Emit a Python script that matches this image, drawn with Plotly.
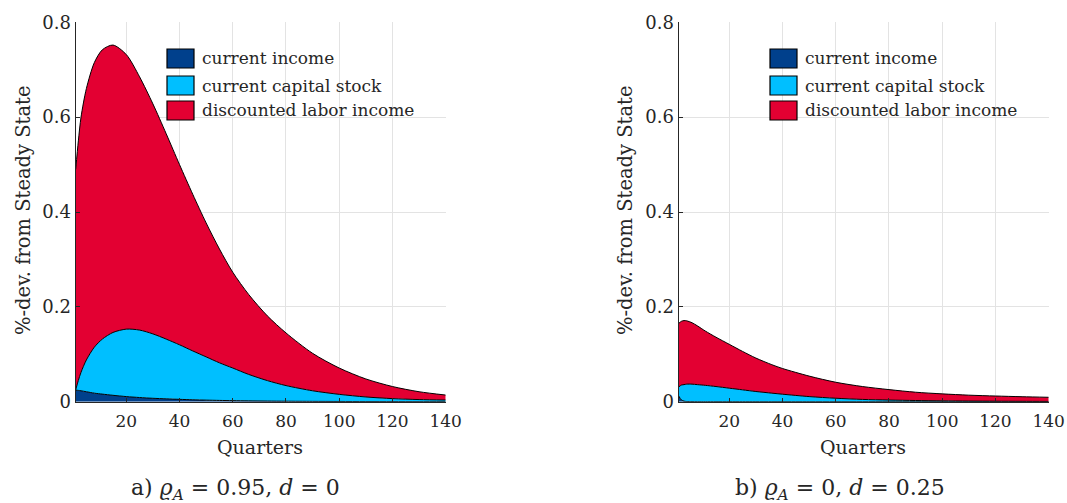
import plotly.graph_objects as go

# ---------------- data ----------------
# panel a) rho_A = 0.95, d = 0
quarters_a = [1, 2, 3, 5, 8, 11, 15, 20, 25, 30, 35, 40, 45, 50, 55, 60, 66, 73,
              80, 90, 100, 110, 120, 130, 140]
income_a = [0.0245, 0.0238, 0.023, 0.021, 0.018, 0.016, 0.0135, 0.0108, 0.0088,
            0.0072, 0.006, 0.005, 0.004, 0.0033, 0.0027, 0.0022, 0.0017, 0.0013,
            0.001, 0.0007, 0.0005, 0.0003, 0.0002, 0.0001, 0.0001]
capital_a = [0.0005, 0.0212, 0.039, 0.067, 0.097, 0.116, 0.1325, 0.1422, 0.1422,
             0.1358, 0.126, 0.115, 0.103, 0.0912, 0.0793, 0.0688, 0.0558, 0.0432,
             0.033, 0.0223, 0.015, 0.0097, 0.0063, 0.0044, 0.0034]
labor_a = [0.465, 0.505, 0.538, 0.572, 0.600, 0.610, 0.606, 0.579, 0.534, 0.485,
           0.433, 0.380, 0.330, 0.2825, 0.240, 0.202, 0.1685, 0.1365, 0.111, 0.079,
           0.0555, 0.038, 0.0255, 0.0165, 0.0105]

# panel b) rho_A = 0, d = 0.25
quarters_b = [1, 2, 3, 4, 6, 8, 11, 15, 20, 25, 30, 36, 40, 50, 60, 70, 80, 90,
              100, 110, 120, 130, 140]
income_b = [0.012, 0.004, 0.0012, 0.0004, 0.0001, 0, 0, 0, 0, 0, 0, 0, 0, 0, 0,
            0, 0, 0, 0, 0, 0, 0, 0]
capital_b = [0.019, 0.031, 0.0348, 0.0366, 0.0369, 0.036, 0.0345, 0.032, 0.0285,
             0.025, 0.0215, 0.018, 0.0158, 0.0108, 0.0073, 0.0048, 0.0035, 0.0025,
             0.0018, 0.0013, 0.001, 0.0008, 0.0006]
labor_b = [0.134, 0.1345, 0.135, 0.1335, 0.1295, 0.124, 0.1145, 0.104, 0.0925,
           0.081, 0.0705, 0.060, 0.0542, 0.0432, 0.0337, 0.0272, 0.022, 0.0175,
           0.0147, 0.0125, 0.011, 0.0097, 0.0087]

series_names = ["current income", "current capital stock", "discounted labor income"]
series_colors = ["#00408C", "#00BFFF", "#E30032"]

x_ticks = [20, 40, 60, 80, 100, 120, 140]
y_ticks = [0, 0.2, 0.4, 0.6, 0.8]
y_tick_text = ["0", "0.2", "0.4", "0.6", "0.8"]

x_title = "Quarters"
y_title = "%-dev. from Steady State"
captions = ["a) <i>ϱ</i><sub><i>A</i></sub> = 0.95, <i>d</i> = 0",
            "b) <i>ϱ</i><sub><i>A</i></sub> = 0, <i>d</i> = 0.25"]

FONT = "DejaVu Serif"
TXT = "#262626"
W, H = 1067, 503

fig = go.Figure()

panels = [
    ("x", "y", quarters_a, [income_a, capital_a, labor_a], "a"),
    ("x2", "y2", quarters_b, [income_b, capital_b, labor_b], "b"),
]
for xa, ya, qs, comps, grp in panels:
    for k, vals in enumerate(comps):
        fig.add_trace(go.Scatter(
            x=qs, y=vals, xaxis=xa, yaxis=ya,
            stackgroup=grp, mode="lines",
            line=dict(color="black", width=1, shape="spline", smoothing=0.8),
            fillcolor=series_colors[k], name=series_names[k],
            showlegend=False, hoverinfo="skip",
        ))

# axis domains (paper fractions)
dom_x = [(75.7 / W, 445.7 / W), (678.7 / W, 1048.7 / W)]
dom_y = (1 - 401.7 / H, 1 - 22.3 / H)

common_x = dict(range=[1, 140], tickvals=x_ticks, showgrid=True, gridcolor="#E3E3E3",
                gridwidth=1, showline=True, linecolor="#262626", linewidth=1.2,
                ticks="inside", ticklen=4, tickcolor="#262626", zeroline=False,
                automargin=False, ticklabelstandoff=4,
                tickfont=dict(family=FONT, size=17, color=TXT))
common_y = dict(range=[0, 0.8], tickvals=y_ticks, ticktext=y_tick_text, showgrid=True,
                gridcolor="#E3E3E3", gridwidth=1, showline=True, linecolor="#262626",
                linewidth=1.2, ticks="inside", ticklen=4, tickcolor="#262626",
                zeroline=False, automargin=False, ticklabelstandoff=0,
                tickfont=dict(family=FONT, size=18, color=TXT))

fig.update_layout(
    width=W, height=H,
    margin=dict(l=0, r=0, t=0, b=0),
    paper_bgcolor="white", plot_bgcolor="white",
    font=dict(family=FONT, color=TXT),
    xaxis=dict(domain=dom_x[0], anchor="y", **common_x),
    yaxis=dict(domain=dom_y, anchor="x", **common_y),
    xaxis2=dict(domain=dom_x[1], anchor="y2", **common_x),
    yaxis2=dict(domain=dom_y, anchor="x2", **common_y),
)

# axis titles
for cx in [260 / W, 863 / W]:
    fig.add_annotation(xref="paper", yref="paper", x=cx, y=1 - 447 / H, text=x_title,
                       showarrow=False, xanchor="center", yanchor="middle",
                       font=dict(family=FONT, size=19, color=TXT))
for cx in [23 / W, 625 / W]:
    fig.add_annotation(xref="paper", yref="paper", x=cx, y=1 - 211 / H, text=y_title,
                       showarrow=False, xanchor="center", yanchor="middle", textangle=-90,
                       font=dict(family=FONT, size=19.5, color=TXT))

# in-plot legends: outlined swatches with labels
legend_left = [167 / W, 770 / W]
swatch_w = 27 / W
row_tops = [49, 76, 101]
row_h = 19
for px0 in legend_left:
    for k, name in enumerate(series_names):
        y0 = 1 - (row_tops[k] + row_h) / H
        y1 = 1 - row_tops[k] / H
        fig.add_shape(type="rect", xref="paper", yref="paper",
                      x0=px0, x1=px0 + swatch_w, y0=y0, y1=y1,
                      fillcolor=series_colors[k], line=dict(color="black", width=1.2))
        fig.add_annotation(xref="paper", yref="paper", x=px0 + swatch_w + 6 / W,
                           y=(y0 + y1) / 2, text=name, showarrow=False,
                           xanchor="left", yanchor="middle",
                           font=dict(family=FONT, size=17, color=TXT))

# panel captions
for cx, text in zip([235 / W, 840 / W], captions):
    fig.add_annotation(xref="paper", yref="paper", x=cx, y=1 - 489 / H, text=text,
                       showarrow=False, xanchor="center", yanchor="middle",
                       font=dict(family=FONT, size=22, color=TXT))

fig.write_html("out.html")
